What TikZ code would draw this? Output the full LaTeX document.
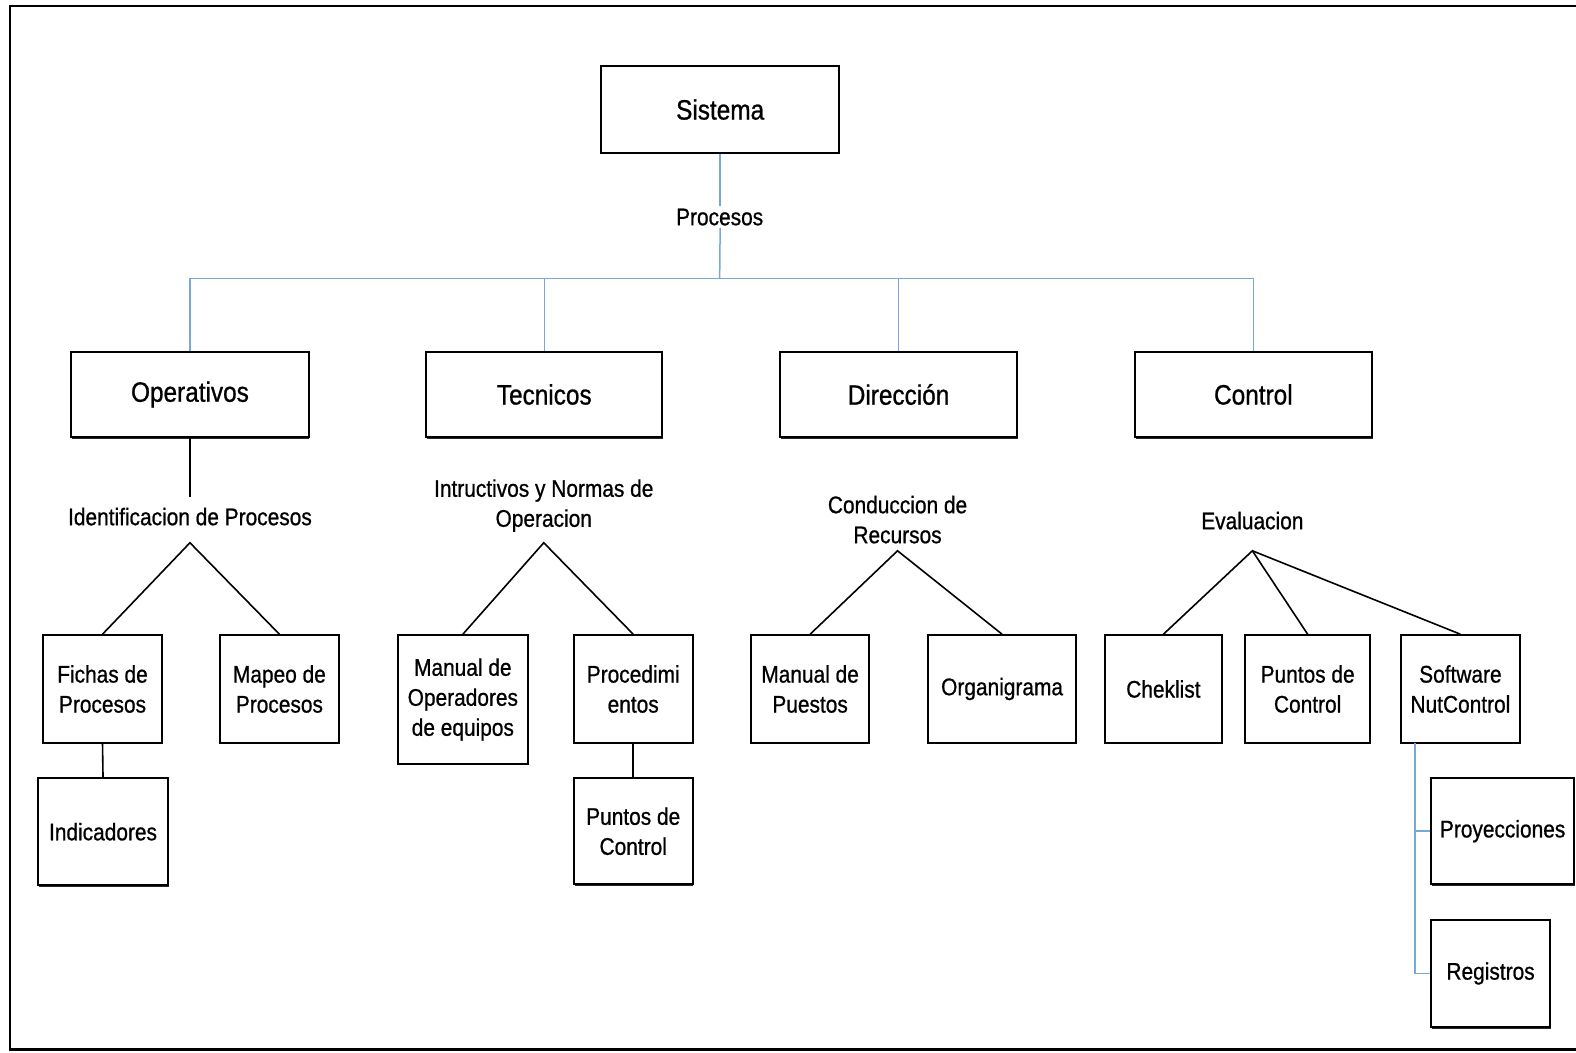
\documentclass[tikz,border=0pt]{standalone}
\usepackage{fontspec}
\setmainfont[FakeStretch=0.87,FakeBold=0.8]{Liberation Sans}
\usetikzlibrary{shadows}
\definecolor{linkblue}{RGB}{120,168,218}
% place a box from its corner coordinates: name, style, x1, y1, x2, y2, text
\newcommand\boxat[7]{%
  \node[#2, minimum width={(#5-#3)*0.5025pt}, minimum height={(#6-#4)*0.5025pt}]
    (#1) at ({(#3+#5)/2},{(#4+#6)/2}) {#7};}
\begin{document}
\begin{tikzpicture}[x=0.5025pt,y=-0.5025pt,
  box/.style={draw=black,line width=1.0pt,fill=white,inner sep=0pt,align=center,
    font=\fontsize{12}{15}\selectfont,
    drop shadow={shadow xshift=0.45pt,shadow yshift=-0.7pt,fill=black!85,opacity=1}},
  bigbox/.style={box,font=\fontsize{14}{17}\selectfont},
  lbl/.style={inner sep=1pt,align=center,font=\fontsize{12}{15}\selectfont},
  bluelink/.style={draw=linkblue,line width=0.75pt},
  link/.style={draw=black,line width=0.8pt}]

\useasboundingbox (0,0) rectangle (1568,1047);
% outer frame, open on the right
\draw[line width=1.2pt] (1568,6) -- (10,6) -- (10,1044) -- (1568,1044);

% top level
\boxat{sis}{bigbox}{598}{66}{835}{152}{Sistema}
\node[lbl] (proc) at (716,216) {Procesos};

% second level
\boxat{ope}{bigbox}{71}{350}{307}{435}{Operativos}
\boxat{tec}{bigbox}{424}{350}{659}{435}{Tecnicos}
\boxat{dir}{bigbox}{776}{350}{1012}{435}{Dirección}
\boxat{con}{bigbox}{1129}{350}{1365}{435}{Control}

% group labels
\node[lbl] (idp) at (189,514) {Identificacion de Procesos};
\node[lbl] (inn) at (541,503) {Intructivos y Normas de\\Operacion};
\node[lbl] (cdr) at (893,517) {Conduccion de\\Recursos};
\node[lbl] (eva) at (1246,518) {Evaluacion};

% third level
\boxat{fic}{box}{43}{632}{161}{739}{Fichas de\\Procesos}
\boxat{map}{box}{219}{632}{337}{739}{Mapeo de\\Procesos}
\boxat{ind}{box}{38}{774}{167}{881}{Indicadores}
\boxat{mop}{box}{396}{632}{525}{760}{Manual de\\Operadores\\de equipos}
\boxat{pro}{box}{571}{632}{689}{739}{Procedimi\\entos}
\boxat{pca}{box}{571}{774}{689}{880}{Puntos de\\Control}
\boxat{mpu}{box}{747}{632}{865}{739}{Manual de\\Puestos}
\boxat{org}{box}{923}{632}{1071}{739}{Organigrama}
\boxat{che}{box}{1099}{632}{1216}{739}{Cheklist}
\boxat{pcb}{box}{1239}{632}{1363}{739}{Puntos de\\Control}
\boxat{sof}{box}{1394}{632}{1512}{739}{Software\\NutControl}
\boxat{pry}{box}{1424}{774}{1566}{880}{Proyecciones}
\boxat{reg}{box}{1424}{915}{1542}{1022}{Registros}

% blue tree under Sistema
\coordinate (hub) at (716,277);
\draw[bluelink] (sis.south) -- (sis.south |- proc.north);
\draw[bluelink] (sis.south |- proc.south) -- (hub);
\draw[bluelink] (hub) -| (ope.north);
\draw[bluelink] (hub) -| (tec.north);
\draw[bluelink] (hub) -| (dir.north);
\draw[bluelink] (hub) -| (con.north);

% black branches
\coordinate (a1) at (189,540);
\coordinate (a2) at (541,540);
\coordinate (a3) at (893,548);
\coordinate (a4) at (1246,548);
\draw[link,shorten >=4pt] (ope.south) -- (idp.north);
\draw[link] (fic.north) -- (a1) -- (map.north);
\draw[link] (mop.north) -- (a2) -- (pro.north);
\draw[link] (mpu.north) -- (a3) -- (org.north);
\draw[link] (che.north) -- (a4) -- (pcb.north);
\draw[link] (a4) -- (sof.north);
\draw[link] (fic.south) -- (ind.north);
\draw[link] (pro.south) -- (pca.north);

% blue branch under Software
\coordinate (swd) at (1408,739);
\draw[bluelink] (swd) |- (pry.west);
\draw[bluelink] (swd) |- (reg.west);
\end{tikzpicture}
\end{document}
